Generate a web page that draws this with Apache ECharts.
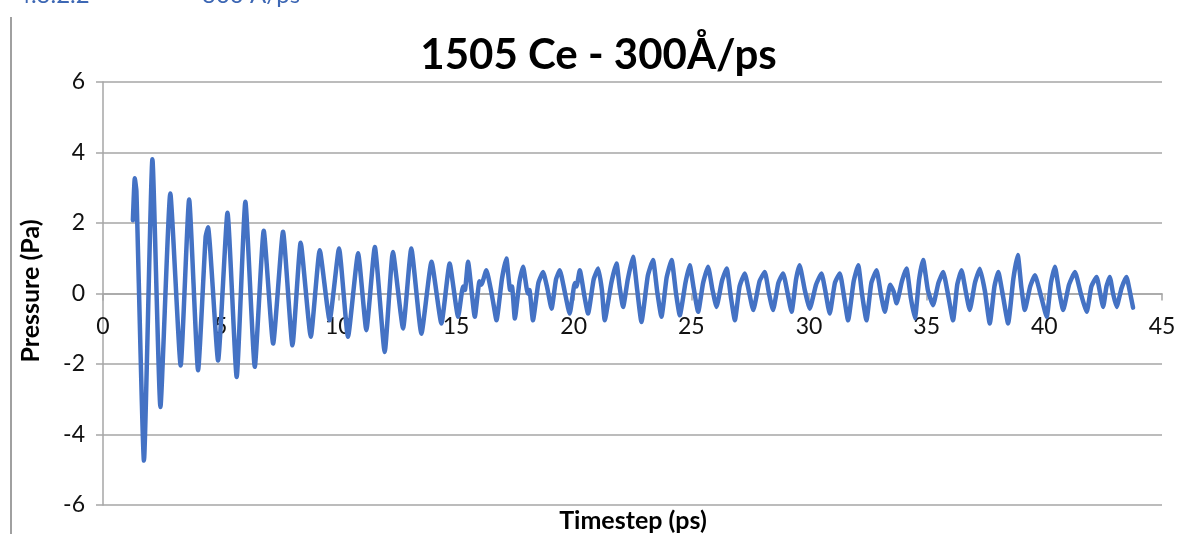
<!DOCTYPE html>
<html>
<head>
<meta charset="utf-8">
<script src="https://cdn.jsdelivr.net/npm/echarts@6/dist/echarts.min.js"></script>
<style>
html,body{margin:0;padding:0;background:#fff;}
#chart{width:1197px;height:534px;}
</style>
</head>
<body>
<div id="chart"></div>
<script>
// Time (ps) and pressure (Pa)
const timeValues = [
 1.27,1.35,1.42,1.74,2.10,2.44,2.86,3.30,3.66,4.04,4.36,4.46,4.89,5.29,5.68,6.05,6.45,6.83,7.23,7.65,
 8.05,8.40,8.83,9.21,9.63,10.03,10.41,10.84,11.19,11.55,11.97,12.32,12.75,13.10,13.53,13.96,14.38,14.73,15.09,
 15.30,15.38,15.51,15.80,16.00,16.08,16.29,16.50,16.58,16.72,16.95,17.14,17.30,17.38,17.50,17.70,17.85,18.05,18.12,18.27,
 18.50,18.70,18.88,19.06,19.25,19.41,19.62,19.83,20.05,20.12,20.26,20.45,20.61,20.85,21.04,21.20,21.32,21.60,21.82,21.95,
 22.10,22.30,22.52,22.70,22.88,23.15,23.37,23.55,23.73,23.95,24.16,24.35,24.51,24.75,24.93,25.10,25.29,25.50,25.71,25.90,
 26.07,26.30,26.50,26.68,26.85,27.05,27.27,27.45,27.63,27.90,28.12,28.30,28.47,28.70,28.90,29.08,29.26,29.45,29.60,29.82,
 30.03,30.30,30.53,30.70,30.88,31.10,31.31,31.48,31.66,31.90,32.09,32.25,32.44,32.65,32.87,33.05,33.22,33.45,33.60,33.72,
 33.95,34.14,34.32,34.50,34.68,34.85,35.05,35.27,35.50,35.70,35.90,36.12,36.30,36.48,36.65,36.83,37.05,37.26,37.48,37.68,
 37.88,38.04,38.25,38.46,38.68,38.87,39.02,39.17,39.40,39.60,39.85,40.10,40.28,40.45,40.62,40.80,41.05,41.30,41.55,41.80,
 42.00,42.22,42.36,42.50,42.64,42.78,42.92,43.07,43.28,43.49,43.62,43.77
];
const pressureValues = [
 2.08,3.27,2.90,-4.74,3.81,-3.22,2.84,-2.04,2.67,-2.18,1.60,1.88,-1.90,2.29,-2.37,2.60,-2.08,1.78,-1.42,1.75,
 -1.47,1.44,-1.23,1.23,-0.76,1.28,-1.23,1.14,-1.04,1.32,-1.66,1.18,-0.99,1.28,-1.14,0.90,-0.85,0.85,-0.66,
 0.20,0.10,0.90,-0.66,0.35,0.25,0.66,0.05,-0.25,-0.76,0.40,0.99,0.10,0.20,-0.71,0.35,0.76,0.00,0.10,-0.76,
 0.30,0.61,0.15,-0.43,0.40,0.66,0.05,-0.57,0.30,0.20,0.66,-0.05,-0.57,0.40,0.71,0.10,-0.76,0.30,0.85,0.20,
 -0.38,0.40,1.04,0.10,-0.81,0.50,0.95,0.05,-0.66,0.45,0.95,0.00,-0.62,0.30,0.80,0.15,-0.52,0.30,0.76,0.10,
 -0.38,0.35,0.71,-0.10,-0.76,0.20,0.57,0.05,-0.47,0.35,0.61,0.00,-0.47,0.30,0.57,0.05,-0.52,0.40,0.80,0.10,
 -0.43,0.25,0.57,0.05,-0.57,0.30,0.57,-0.05,-0.76,0.35,0.80,0.00,-0.76,0.30,0.66,0.00,-0.52,0.25,0.05,-0.28,
 0.35,0.71,-0.10,-0.70,0.40,0.95,0.10,-0.33,0.30,0.61,0.00,-0.76,0.25,0.66,0.10,-0.47,0.30,0.70,0.05,-0.85,
 0.20,0.61,-0.10,-0.85,0.40,1.09,0.20,-0.47,0.20,0.52,-0.05,-0.66,0.30,0.76,0.10,-0.47,0.25,0.61,0.00,-0.52,
 0.20,0.47,0.05,-0.38,0.20,0.47,0.00,-0.38,0.15,0.47,0.10,-0.40
];
const chartTitle = '1505 Ce - 300Å/ps';
const xAxisName = 'Timestep (ps)';
const yAxisName = 'Pressure (Pa)';
const headingLeft = '4.3.2.2';
const headingRight = '300 Å/ps';

const seriesData = timeValues.map((t, i) => [t, pressureValues[i]]);
const FONT = 'Lato, "Open Sans", sans-serif';

const chart = echarts.init(document.getElementById('chart'), null, {renderer: 'canvas'});
chart.setOption({
  animation: false,
  backgroundColor: '#ffffff',
  title: {
    text: chartTitle, left: 'center', top: 29,
    textStyle: {fontFamily: FONT, fontWeight: 'bold', fontSize: 42, color: '#000'}
  },
  grid: {left: 103, right: 35, top: 82, bottom: 29, containLabel: false, outerBoundsMode: 'none'},
  xAxis: {
    type: 'value', min: 0, max: 45, interval: 5, position: 'bottom', offset: -211.5,
    axisLine: {onZero: false, lineStyle: {color: '#a6a6a6', width: 1.5}},
    axisTick: {show: true, length: 7, lineStyle: {color: '#a6a6a6', width: 1.5}},
    axisLabel: {fontFamily: FONT, fontSize: 23, color: '#111', margin: 22},
    splitLine: {show: false}
  },
  yAxis: {
    type: 'value', min: -6, max: 6, interval: 2,
    axisLine: {show: true, onZero: false, lineStyle: {color: '#a6a6a6', width: 1.5}},
    axisTick: {show: true, length: 7, lineStyle: {color: '#a6a6a6', width: 1.5}},
    axisLabel: {fontFamily: FONT, fontSize: 23, color: '#111', margin: 18},
    splitLine: {show: true, lineStyle: {color: '#a6a6a6', width: 1.5}}
  },
  series: [{
    type: 'line', data: seriesData, showSymbol: false, symbol: 'none',
    lineStyle: {color: '#4472C4', width: 4.5, join: 'round', cap: 'round'}, smooth: 0.15, z: 1
  }],
  graphic: [
    {type: 'line', shape: {x1: 11, y1: 17, x2: 11, y2: 534}, style: {stroke: '#a0a0a0', lineWidth: 2}},
    {type: 'text', x: 17, y: -5, style: {text: headingLeft, fontFamily: FONT, fontSize: 24, fill: '#3d67b4', verticalAlign: 'middle'}},
    {type: 'text', x: 202, y: -5, style: {text: headingRight, fontFamily: FONT, fontSize: 24, fill: '#3d67b4', verticalAlign: 'middle'}},
    {type: 'text', x: 633, y: 521, style: {text: xAxisName, fontFamily: FONT, fontWeight: 'bold', fontSize: 25, fill: '#000', align: 'center', verticalAlign: 'middle'}},
    {type: 'text', x: 31, y: 291, rotation: Math.PI / 2, style: {text: yAxisName, fontFamily: FONT, fontWeight: 'bold', fontSize: 25, fill: '#000', align: 'center', verticalAlign: 'middle'}}
  ]
});
</script>
</body>
</html>
